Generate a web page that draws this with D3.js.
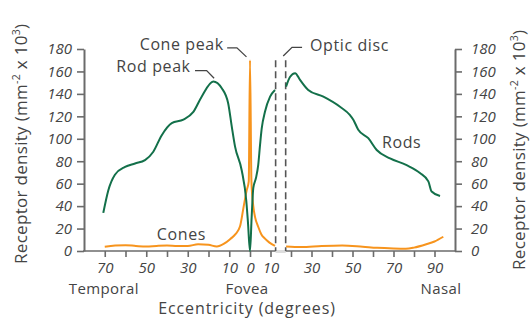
<!DOCTYPE html>
<html>
<head>
<meta charset="utf-8">
<script src="https://cdn.jsdelivr.net/npm/d3@7"></script>
<style>
  body { margin: 0; background: #fff; }
  svg text { font-family: "Open Sans", sans-serif; fill: #444; }
  .axis path, .axis line { stroke: #6b6b6b; }
  .axis path { stroke-width: 2; }
  .axis line { stroke-width: 1.6; }
</style>
</head>
<body>
<svg width="532" height="322"></svg>
<script>
// eccentricity in degrees: negative = temporal, positive = nasal
var rodDeg = [-70.7, -68.3, -65.1, -60.2, -55.4, -50.6, -46.6, -42.6, -37.7, -32.1, -27.3, -23.3,
  -17.7, -13.6, -10.5, -8.8, -7.2, -4, -1.8, -1, 0,
  0.8, 1.6, 2.9, 4, 4.9, 5.7, 7.3, 9.8, 12.2,
  null,
  17.6, 19.5, 22, 24.4, 28.4, 35.8, 43.9, 48.8, 50.4, 52.8, 57.7, 61.8, 68.3, 76.4, 82.9, 87, 88.6, 92.7];
var rodDensity = [34, 54, 68, 75, 78, 81, 88.5, 103, 114, 117, 124, 137.5,
  151, 145, 131.5, 111, 93, 72, 45, 26, 0,
  30, 56, 65, 76.5, 94.5, 109, 124, 137.5, 143.5,
  null,
  146.5, 155, 158.5, 152.5, 143.5, 137.5, 128.5, 121, 117, 108, 100.5, 90, 82.5, 76.5, 69.5, 62, 53, 49];

var coneDeg = [-70, -65, -60, -55, -50, -45, -40, -35, -30, -25, -20, -16, -12.5, -9.6, -7, -4.8, -3.2, -1.6, -0.6, 0,
  0.7, 1.6, 2.5, 4, 5.5, 7.3, 9.5, 12.2,
  null,
  17.6, 25, 35, 45, 55, 62, 70, 76, 80, 86, 90, 94.3];
var coneDensity = [3.8, 4.8, 5.2, 4.5, 4, 4.5, 4.8, 4.5, 4.5, 6, 5.5, 4, 6.5, 10.5, 15, 22, 38, 54, 62, 170,
  62, 40, 30, 21.6, 15, 11, 7.5, 4.5,
  null,
  4, 3.5, 4.5, 5, 3.8, 2.8, 2.2, 2, 3, 6, 8.5, 12.7];

var opticDisc = [12.5, 17.4];
var yTicks = [0, 20, 40, 60, 80, 100, 120, 140, 160, 180];
var xTicks = [-70, -60, -50, -40, -30, -20, -10, 0, 10, 20, 30, 40, 50, 60, 70, 80, 90];
var xLabelled = [-70, -50, -30, -10, 0, 10, 30, 50, 70, 90];

var svg = d3.select("svg");

var x = d3.scaleLinear().domain([-80, 0, 100]).range([84, 250, 455]);
var y = d3.scaleLinear().domain([0, 180]).range([251, 49]);

var green = "#13704a", orange = "#f7941d";

// light patch on the axis under the optic disc
svg.append("rect")
    .attr("x", x(opticDisc[0])).attr("width", x(opticDisc[1]) - x(opticDisc[0]))
    .attr("y", y(0) - 1).attr("height", 3)
    .attr("fill", "#ddd");

var xAxis = svg.append("g")
    .attr("class", "axis")
    .attr("transform", "translate(0," + y(0) + ")")
    .call(d3.axisBottom(x).tickValues(xTicks).tickSize(6).tickSizeOuter(0).tickPadding(5)
      .tickFormat(function(d) { return Math.abs(d); }));
xAxis.select(".domain").remove();
xAxis.selectAll(".tick text").filter(function(d) { return xLabelled.indexOf(d) < 0; }).remove();
// axis line split around the optic disc
[[-80, opticDisc[0]], [opticDisc[1], 100]].forEach(function(s) {
  xAxis.append("line")
      .attr("x1", x(s[0]) - (s[0] === -80 ? 1 : 0)).attr("x2", x(s[1]) + (s[1] === 100 ? 1 : 0))
      .attr("stroke", "#6b6b6b").attr("stroke-width", 2);
});

svg.append("g")
    .attr("class", "axis")
    .attr("transform", "translate(" + x(-80) + ",0)")
    .call(d3.axisLeft(y).tickValues(yTicks).tickSize(7).tickSizeOuter(0).tickPadding(5));

svg.append("g")
    .attr("class", "axis")
    .attr("transform", "translate(" + x(100) + ",0)")
    .call(d3.axisRight(y).tickValues(yTicks).tickSize(7).tickSizeOuter(0).tickPadding(9));

svg.selectAll(".axis text")
    .attr("font-size", 15)
    .style("font-style", "italic")
    .style("font-family", "'Open Sans', sans-serif")
    .attr("fill", "#444");
xAxis.selectAll("text").attr("dy", "0.72em");

// optic disc dashed boundaries
svg.selectAll(".disc")
    .data(opticDisc)
    .enter().append("line")
    .attr("x1", function(d) { return x(d); }).attr("x2", function(d) { return x(d); })
    .attr("y1", y(170)).attr("y2", y(0))
    .attr("stroke", "#555").attr("stroke-width", 1.6)
    .attr("stroke-dasharray", "7,4");

var rods = rodDeg.map(function(d, i) { return {deg: d, v: rodDensity[i]}; });
var cones = coneDeg.map(function(d, i) { return {deg: d, v: coneDensity[i]}; });

var line = d3.line()
    .defined(function(d) { return d.deg !== null; })
    .x(function(d) { return x(d.deg); })
    .y(function(d) { return y(d.v); })
    .curve(d3.curveMonotoneX);

svg.append("path").datum(cones)
    .attr("d", line).attr("fill", "none")
    .attr("stroke", orange).attr("stroke-width", 2);

svg.append("path").datum(rods)
    .attr("d", line).attr("fill", "none")
    .attr("stroke", green).attr("stroke-width", 2);

// annotations
function label(txt, px, py, anchor, size, spacing) {
  return svg.append("text")
      .attr("x", px).attr("y", py)
      .attr("text-anchor", anchor || "start")
      .attr("font-size", size || 16)
      .attr("letter-spacing", spacing === undefined ? 0.6 : spacing)
      .text(txt);
}

label("Cone peak", x(-12.6), y(179.5), "end");
label("Rod peak", x(-28.6), y(159.5), "end");
label("Optic disc", x(29.3), y(178));
label("Rods", x(64.4), y(91.8));
label("Cones", x(-44.9), y(9.8));

function leader(pts) {
  svg.append("path")
      .attr("d", d3.line()(pts.map(function(p) { return [x(p[0]), y(p[1])]; })))
      .attr("fill", "none").attr("stroke", "#444").attr("stroke-width", 1.3);
}
leader([[-11, 181], [-6.3, 181], [-1.7, 173]]);
leader([[-26.5, 160.7], [-20.9, 160.7], [-17.3, 153.9]]);
leader([[25.4, 181.5], [20.5, 181.5], [16.2, 173.8]]);

// region labels
label("Temporal", x(-70) - 36, 294, "start", 15, 0.4);
label("Fovea", x(0) - 3, 294, "middle", 15, 0.4);
label("Nasal", x(90) + 27, 294, "end", 15, 0.4);
label("Eccentricity (degrees)", x(0) - 3, 314, "middle", 16, 0.9);

// y titles
function yTitle(px, py) {
  var t = svg.append("text")
      .attr("transform", "translate(" + px + "," + py + ") rotate(-90)")
      .attr("font-size", 17)
      .attr("letter-spacing", 0.3);
  t.append("tspan").text("Receptor density (mm");
  t.append("tspan").attr("font-size", 10.5).attr("dy", -7).text("-2");
  t.append("tspan").attr("dy", 7).text(" x 10");
  t.append("tspan").attr("font-size", 10.5).attr("dy", -7).text("3");
  t.append("tspan").attr("dy", 7).text(")");
}
yTitle(27, 264);
yTitle(525, 270);
</script>
</body>
</html>
